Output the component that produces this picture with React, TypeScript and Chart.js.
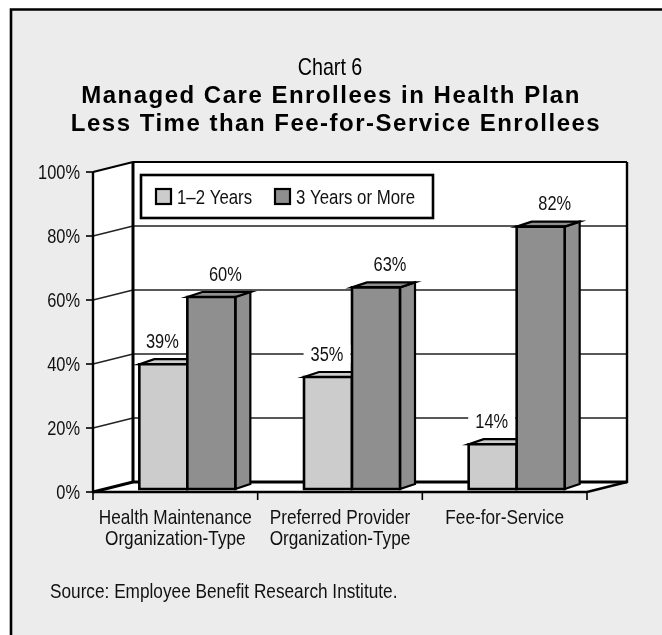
import { useEffect, useRef } from 'react';
import { Chart, registerables } from 'chart.js';

Chart.register(...registerables);

// ---------- data ----------
const categories: string[][] = [
  ['Health Maintenance', 'Organization-Type'],
  ['Preferred Provider', 'Organization-Type'],
  ['Fee-for-Service'],
];
const seriesNames = ['1–2 Years', '3 Years or More'];
const shortTerm = [39, 35, 14];
const longTerm = [60, 63, 82];
const yTicks = [0, 20, 40, 60, 80, 100];
const yTickLabels = ['0%', '20%', '40%', '60%', '80%', '100%'];
const titleLines = ['Chart 6', 'Managed Care Enrollees in Health Plan', 'Less Time than Fee-for-Service Enrollees'];
const sourceText = 'Source: Employee Benefit Research Institute.';

// ---------- style ----------
const W = 662;
const H = 635;
const SANS = '"Liberation Sans", Arial, sans-serif';
const SX = 0.82; // horizontal squeeze to emulate a narrow face
const PANEL = '#ececec';
const LIGHT = '#cccccc';
const DARK = '#8f8f8f';
const INK = '#111';
const WALL_DX = 40;
const WALL_DY = -10;
const BAR_DX0 = 12;
const BAR_DY0 = -3;
const BAR_DX = 15;
const BAR_DY = -5;
const LABEL_DX = [-1, 14];

function line(ctx: CanvasRenderingContext2D, pts: number[][], w: number, color = '#000') {
  ctx.beginPath();
  ctx.moveTo(pts[0][0], pts[0][1]);
  for (let i = 1; i < pts.length; i++) ctx.lineTo(pts[i][0], pts[i][1]);
  ctx.lineWidth = w;
  ctx.strokeStyle = color;
  ctx.stroke();
}

function poly(ctx: CanvasRenderingContext2D, pts: number[][], fill: string, stroke: string | null, w: number) {
  ctx.beginPath();
  ctx.moveTo(pts[0][0], pts[0][1]);
  for (let i = 1; i < pts.length; i++) ctx.lineTo(pts[i][0], pts[i][1]);
  ctx.closePath();
  ctx.fillStyle = fill;
  ctx.fill();
  if (stroke) {
    ctx.lineWidth = w;
    ctx.strokeStyle = stroke;
    ctx.lineJoin = 'miter';
    ctx.stroke();
  }
}

function narrowWidth(ctx: CanvasRenderingContext2D, s: string, size: number) {
  ctx.save();
  ctx.font = `${size}px ${SANS}`;
  const w = ctx.measureText(s).width * SX;
  ctx.restore();
  return w;
}

function narrowText(
  ctx: CanvasRenderingContext2D,
  s: string,
  x: number,
  y: number,
  size: number,
  align: CanvasTextAlign,
  color = INK,
) {
  ctx.save();
  ctx.font = `${size}px ${SANS}`;
  ctx.translate(x, y);
  ctx.scale(SX, 1);
  ctx.textAlign = align;
  ctx.textBaseline = 'middle';
  ctx.fillStyle = color;
  ctx.fillText(s, 0, 0);
  ctx.restore();
}

const threeDPlugin = {
  id: 'threeD',
  beforeDatasetsDraw() {
    return false;
  },
  afterDraw(chart: any) {
    const ctx: CanvasRenderingContext2D = chart.ctx;
    const { left, right, top, bottom } = chart.chartArea;
    const ys = chart.scales.y;
    const xs = chart.scales.x;
    ctx.save();

    // page + panel
    ctx.fillStyle = '#ffffff';
    ctx.fillRect(0, 0, W, H);
    ctx.fillStyle = PANEL;
    ctx.fillRect(11, 9.5, W + 20, H + 20);
    line(ctx, [[11, H + 20], [11, 9.5], [W + 20, 9.5]], 2.6);

    const bl = left + WALL_DX;
    const br = right + WALL_DX;
    const bt = top + WALL_DY;
    const bb = bottom + WALL_DY;

    // walls and floor
    poly(ctx, [[bl, bt], [br, bt], [br, bb], [bl, bb]], '#fff', null, 0);
    poly(ctx, [[left, top], [bl, bt], [bl, bb], [left, bottom]], '#fff', null, 0);
    poly(ctx, [[left, bottom], [right, bottom], [br, bb], [bl, bb]], '#fff', null, 0);

    // gridlines
    for (const v of yTicks) {
      if (v === 0 || v === 100) continue;
      const py = ys.getPixelForValue(v);
      line(ctx, [[left, py], [bl, py + WALL_DY], [br, py + WALL_DY]], 1.4, '#222');
    }

    // wall edges
    line(ctx, [[left, top], [bl, bt], [br, bt]], 2.2);
    line(ctx, [[br, bt], [br, bb], [right, bottom]], 2.4);
    line(ctx, [[bl, bt], [bl, bb]], 3);
    line(ctx, [[bl, bb], [br, bb]], 3);
    line(ctx, [[left, bottom], [bl, bb]], 3);
    line(ctx, [[left, top], [left, bottom], [right, bottom]], 2.4);

    // y ticks and labels
    yTicks.forEach((v, i) => {
      const py = ys.getPixelForValue(v);
      line(ctx, [[left - 7, py], [left, py]], 1.6);
      narrowText(ctx, yTickLabels[i], left - 13, py + 1, 20, 'right');
    });

    // x ticks
    const n = categories.length;
    const cw = (right - left) / n;
    for (let i = 0; i <= n; i++) {
      const px = left + cw * i;
      line(ctx, [[px, bottom], [px, bottom + 8]], 1.6);
    }

    // legend
    const lx = 141, ly = 175, lw = 292, lh = 43;
    ctx.fillStyle = '#fff';
    ctx.fillRect(lx, ly, lw, lh);
    ctx.lineWidth = 2.6;
    ctx.strokeStyle = '#000';
    ctx.strokeRect(lx, ly, lw, lh);
    const sw = [[156, 189], [275, 189]];
    const lcol = [LIGHT, DARK];
    seriesNames.forEach((name, i) => {
      ctx.fillStyle = lcol[i];
      ctx.fillRect(sw[i][0], sw[i][1], 15, 15);
      ctx.lineWidth = 2.2;
      ctx.strokeStyle = '#000';
      ctx.strokeRect(sw[i][0], sw[i][1], 15, 15);
      narrowText(ctx, name, sw[i][0] + 21, 198, 20.5, 'left');
    });

    // bars
    const metas = [chart.getDatasetMeta(0), chart.getDatasetMeta(1)];
    const fills = [LIGHT, DARK];
    for (let c = 0; c < n; c++) {
      for (let d = 0; d < 2; d++) {
        const el = metas[d].data[c];
        const x0 = el.x - el.width / 2 + BAR_DX0;
        const x1 = el.x + el.width / 2 + BAR_DX0;
        const y0 = el.y + BAR_DY0;
        const y1 = el.base + BAR_DY0;
        poly(ctx, [[x1, y0], [x1 + BAR_DX, y0 + BAR_DY], [x1 + BAR_DX, y1 + BAR_DY], [x1, y1]], fills[d], '#000', 2.2);
        poly(ctx, [[x0, y0], [x0 + BAR_DX, y0 + BAR_DY], [x1 + BAR_DX, y0 + BAR_DY], [x1, y0]], fills[d], '#000', 2.2);
        poly(ctx, [[x0, y0], [x1, y0], [x1, y1], [x0, y1]], fills[d], '#000', 2.6);
      }
    }

    // value labels
    const values = [shortTerm, longTerm];
    for (let c = 0; c < n; c++) {
      for (let d = 0; d < 2; d++) {
        const el = metas[d].data[c];
        const t = `${values[d][c]}%`;
        const cx = el.x + BAR_DX0 + LABEL_DX[d];
        const cy = el.y + BAR_DY0 - 23;
        const tw = narrowWidth(ctx, t, 20);
        ctx.fillStyle = '#fff';
        ctx.fillRect(cx - tw / 2 - 7, cy - 9, tw + 14, 18);
        narrowText(ctx, t, cx, cy + 1, 20, 'center');
      }
    }

    // x labels
    categories.forEach((lines, i) => {
      const cx = xs.getPixelForValue(i);
      lines.forEach((t, j) => narrowText(ctx, t, cx, 518 + j * 21, 21, 'center'));
    });

    // titles
    narrowText(ctx, titleLines[0], 330, 68, 24, 'center', '#000');
    ctx.fillStyle = '#000';
    ctx.textAlign = 'center';
    ctx.textBaseline = 'middle';
    ctx.font = `bold 24px ${SANS}`;
    (ctx as any).letterSpacing = '1.5px';
    ctx.fillText(titleLines[1], 331, 96);
    ctx.fillText(titleLines[2], 336, 124);
    (ctx as any).letterSpacing = '0px';

    // source
    narrowText(ctx, sourceText, 50, 592, 21, 'left');

    ctx.restore();
  },
};

export default function App() {
  const ref = useRef<HTMLCanvasElement>(null);
  useEffect(() => {
    const chart = new Chart(ref.current as HTMLCanvasElement, {
      type: 'bar',
      data: {
        labels: categories.map((c) => c.join(' ')),
        datasets: [
          { label: seriesNames[0], data: shortTerm, backgroundColor: LIGHT, categoryPercentage: 0.583, barPercentage: 1 },
          { label: seriesNames[1], data: longTerm, backgroundColor: DARK, categoryPercentage: 0.583, barPercentage: 1 },
        ],
      },
      options: {
        responsive: false,
        devicePixelRatio: 1,
        animation: false,
        layout: { padding: { left: 93, right: 75, top: 172, bottom: 143 } },
        scales: {
          x: { display: false, offset: true },
          y: { display: false, min: 0, max: 100 },
        },
        plugins: {
          legend: { display: false },
          title: { display: false },
          tooltip: { enabled: false },
        },
      },
      plugins: [threeDPlugin],
    });
    return () => chart.destroy();
  }, []);
  return (
    <div style={{ position: 'fixed', left: 0, top: 0, width: W, height: H }}>
      <canvas ref={ref} width={W} height={H} style={{ display: 'block', width: W, height: H }} />
    </div>
  );
}
